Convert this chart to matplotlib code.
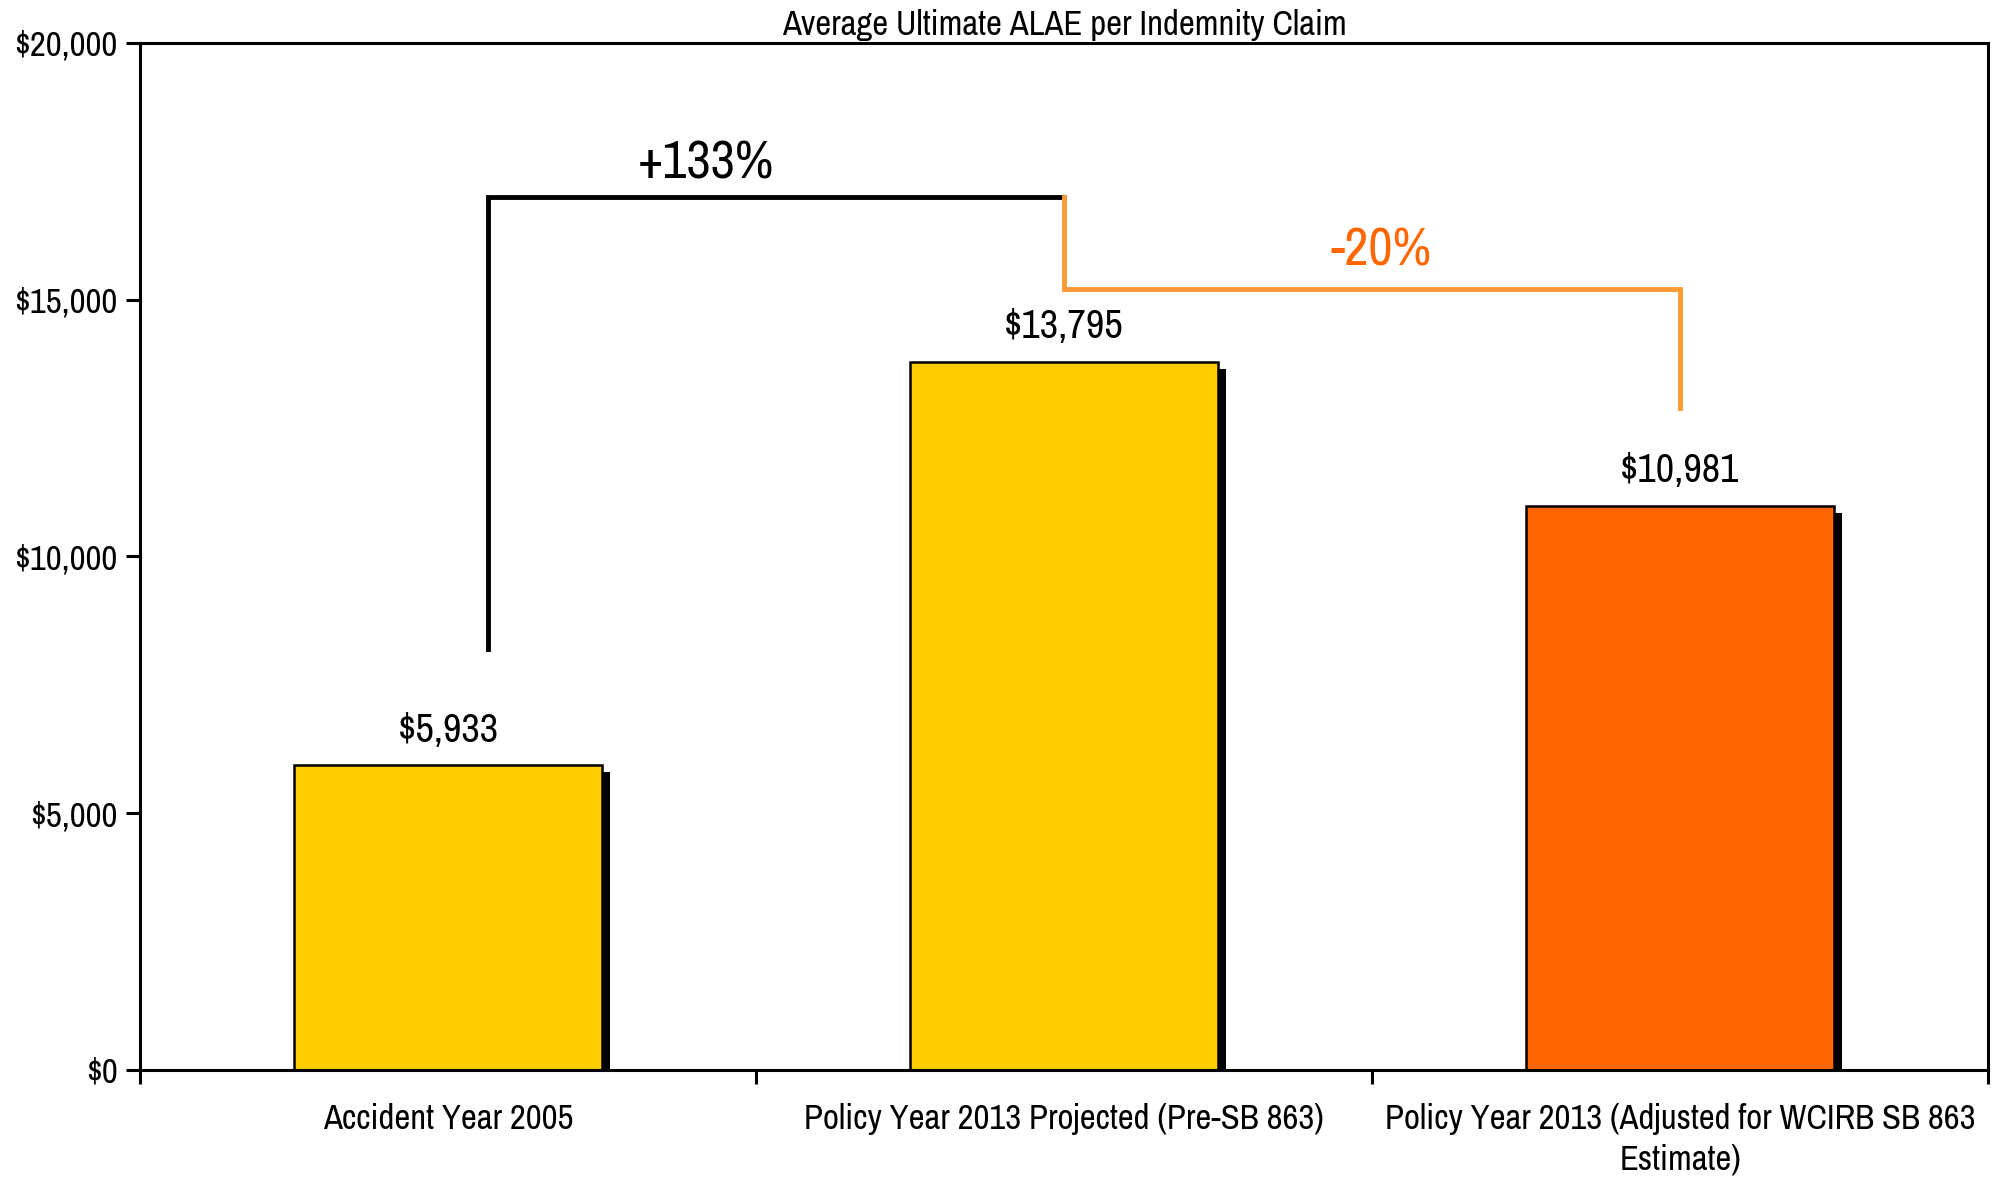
import matplotlib
matplotlib.use("Agg")
import matplotlib.pyplot as plt
import matplotlib.transforms as mtransforms

categories = ["Accident Year 2005",
              "Policy Year 2013 Projected (Pre-SB 863)",
              "Policy Year 2013 (Adjusted for WCIRB SB 863\nEstimate)"]
values = [5933, 13795, 10981]
value_labels = ["$5,933", "$13,795", "$10,981"]
bar_colors = ["#FFCC00", "#FFCC00", "#FF6600"]
y_ticks = [0, 5000, 10000, 15000, 20000]
y_tick_labels = ["$0", "$5,000", "$10,000", "$15,000", "$20,000"]
title = "Average Ultimate ALAE per Indemnity Claim"
increase_label = "+133%"
decrease_label = "-20%"

plt.rcParams["font.family"] = ["Archivo Narrow", "DejaVu Sans"]
plt.rcParams["font.stretch"] = "condensed"

fig = plt.figure(figsize=(19.92, 11.78), dpi=100)
ax = fig.add_axes([0.0703, 0.0917, 0.9277, 0.8718])

x = list(range(len(values)))
shadow_tr = ax.transData + mtransforms.ScaledTranslation(8/100, -7/100, fig.dpi_scale_trans)
ax.bar(x, values, width=0.5, color="black", transform=shadow_tr, zorder=2)
ax.bar(x, values, width=0.5, color=bar_colors, edgecolor="black", linewidth=1.8, zorder=3)

for xi, v, lab in zip(x, values, value_labels):
    ax.annotate(lab, (xi, v), xytext=(0, 12), textcoords="offset points",
                ha="center", va="bottom", fontsize=29)

ax.plot([0.065, 0.065, 1.0], [8200, 17000, 17000], color="black", lw=3.5,
        solid_joinstyle="miter", zorder=4)
ax.text(0.418, 17650, increase_label, ha="center", va="center", fontsize=38,
        color="black")
ax.plot([1.0, 1.0, 2.0, 2.0], [17000, 15200, 15200, 12900], color="#FF9933", lw=3.5,
        solid_joinstyle="miter", zorder=4)
ax.text(1.514, 15950, decrease_label, ha="center", va="center", fontsize=38,
        color="#FF6600")

ax.set_xlim(-0.5, 2.5)
ax.set_ylim(0, 20000)
ax.set_yticks(y_ticks)
ax.set_yticklabels(y_tick_labels, fontsize=25)
ax.set_xticks([-0.5, 0.5, 1.5, 2.5])
ax.set_xticklabels([])
ax.set_xticks(x, minor=True)
ax.set_xticklabels(categories, minor=True, fontsize=25, linespacing=1.3)
ax.tick_params(axis="x", which="major", length=10, width=2.2, direction="out")
ax.tick_params(axis="x", which="minor", length=0, pad=24)
ax.tick_params(axis="y", length=10, width=2.2, direction="out", pad=6)
for s in ax.spines.values():
    s.set_linewidth(2.2)
    s.set_zorder(5)

ax.set_title(title, fontsize=25, pad=6)

fig.savefig("out.png", dpi=100, facecolor="white")
